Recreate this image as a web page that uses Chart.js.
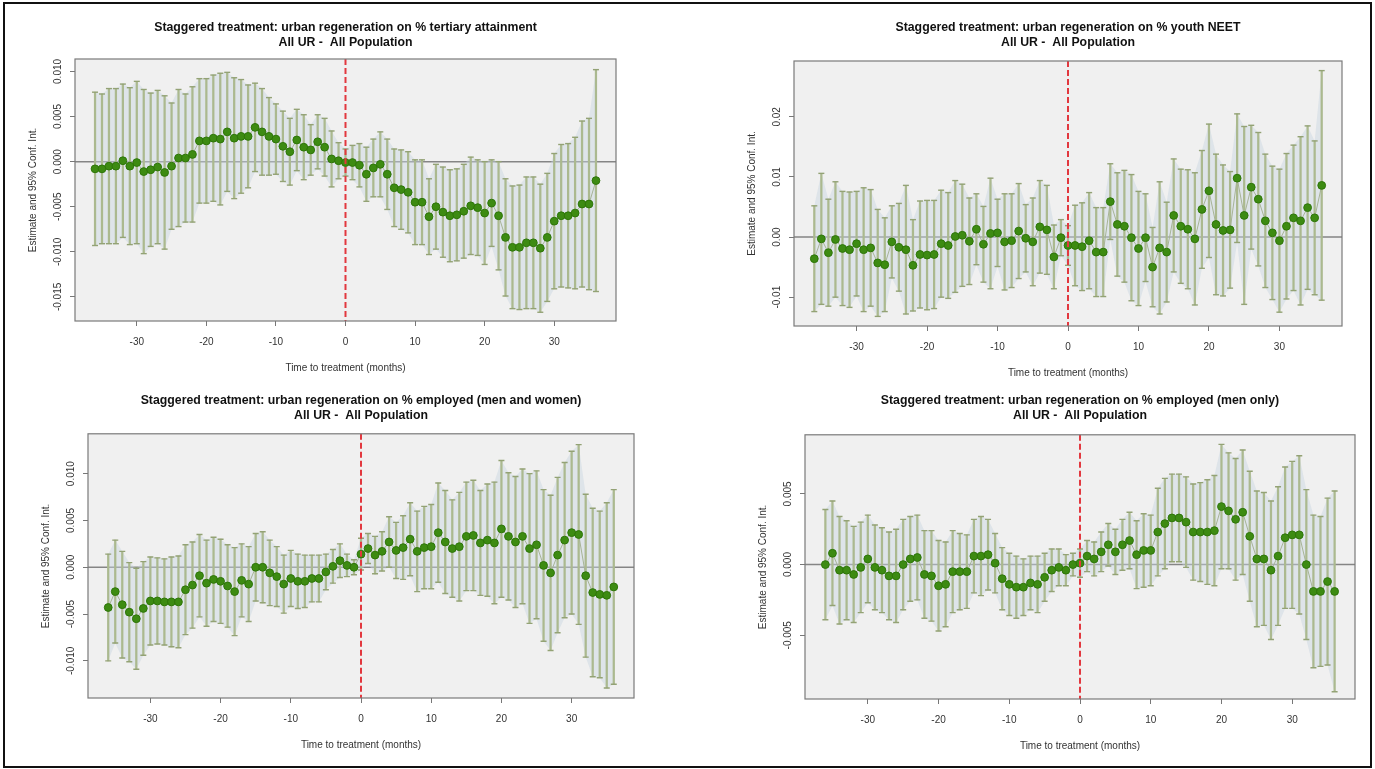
<!DOCTYPE html>
<html>
<head>
<meta charset="utf-8">
<script src="https://cdn.jsdelivr.net/npm/chart.js@4.4.0/dist/chart.umd.min.js"></script>
<style>
html, body { margin: 0; padding: 0; background: #fff; overflow: hidden; width: 1375px; height: 769px; }
#frame { position: absolute; left: 3px; top: 2px; width: 1365px; height: 762px; border: 2px solid #111; z-index: 5; pointer-events: none; }
canvas { position: absolute; }
</style>
</head>
<body>
<div id="frame"></div>
<canvas id="tertiary"></canvas>
<canvas id="neet"></canvas>
<canvas id="employed"></canvas>
<canvas id="menEmployed"></canvas>
<script>
// months relative to treatment
var months = [-36, -35, -34, -33, -32, -31, -30, -29, -28, -27, -26, -25, -24, -23, -22, -21, -20, -19, -18, -17, -16, -15, -14, -13,
  -12, -11, -10, -9, -8, -7, -6, -5, -4, -3, -2, -1, 0, 1, 2, 3, 4, 5, 6, 7, 8, 9, 10, 11, 12, 13, 14, 15, 16, 17, 18, 19, 20,
  21, 22, 23, 24, 25, 26, 27, 28, 29, 30, 31, 32, 33, 34, 35, 36];
var xTicks = [-30, -20, -10, 0, 10, 20, 30];

// % tertiary attainment: estimate and half width of 95% CI
var tertiaryEst = [-0.0008, -0.0008, -0.0005, -0.0005, 0.0001, -0.0005, -0.0001, -0.0011, -0.0009, -0.0006, -0.0012, -0.0005,
  0.0004, 0.0004, 0.0008, 0.0023, 0.0023, 0.0026, 0.0025, 0.0033, 0.0026, 0.0028, 0.0028, 0.0038, 0.0033, 0.0028, 0.0025, 0.0017,
  0.0011, 0.0024, 0.0016, 0.0013, 0.0022, 0.0016, 0.0003, 0.0001,
  -0.0001, -0.0001, -0.0004, -0.0014, -0.0007, -0.0003, -0.0014, -0.0029, -0.0031, -0.0034, -0.0045, -0.0045, -0.0061, -0.0050,
  -0.0056, -0.0060, -0.0059, -0.0055, -0.0049, -0.0051, -0.0057, -0.0046, -0.0060, -0.0084, -0.0095, -0.0095, -0.0090, -0.0090,
  -0.0096, -0.0084, -0.0066, -0.0060, -0.0060, -0.0057, -0.0047, -0.0047, -0.0021];
var tertiaryCI = [0.0085, 0.0083, 0.0086, 0.0086, 0.0085, 0.0087, 0.0090, 0.0091, 0.0085, 0.0085, 0.0085, 0.0070, 0.0076, 0.0071,
  0.0075, 0.0069, 0.0069, 0.0070, 0.0073, 0.0066, 0.0067, 0.0063, 0.0057, 0.0049, 0.0048, 0.0043, 0.0039, 0.0039, 0.0037, 0.0034,
  0.0036, 0.0028, 0.0030, 0.0032, 0.0031, 0.0020,
  0.0015, 0.0019, 0.0024, 0.0030, 0.0032, 0.0036, 0.0039, 0.0043, 0.0044, 0.0045, 0.0047, 0.0047, 0.0042, 0.0047, 0.0050, 0.0051,
  0.0051, 0.0052, 0.0054, 0.0053, 0.0057, 0.0048, 0.0060, 0.0065, 0.0068, 0.0069, 0.0073, 0.0073, 0.0071, 0.0071, 0.0075, 0.0079,
  0.0080, 0.0084, 0.0092, 0.0095, 0.0123];

// % youth NEET
var neetEst = [-0.0036, -0.0003, -0.0026, -0.0004, -0.0019, -0.0021, -0.0011, -0.0021, -0.0018, -0.0043, -0.0046, -0.0008,
  -0.0017, -0.0021, -0.0047, -0.0029, -0.0030, -0.0029, -0.0011, -0.0014, 0.0001, 0.0003, -0.0007, 0.0013, -0.0012, 0.0006,
  0.0007, -0.0008, -0.0006, 0.0010, -0.0002, -0.0008, 0.0017, 0.0012, -0.0033, -0.0001,
  -0.0014, -0.0014, -0.0016, -0.0006, -0.0025, -0.0025, 0.0059, 0.0021, 0.0018, -0.0001, -0.0019, -0.0001, -0.0050, -0.0018,
  -0.0025, 0.0036, 0.0018, 0.0013, -0.0003, 0.0046, 0.0077, 0.0021, 0.0011, 0.0012, 0.0098, 0.0036, 0.0083, 0.0063, 0.0027,
  0.0007, -0.0006, 0.0018, 0.0032, 0.0027, 0.0049, 0.0032, 0.0086];
var neetCI = [0.0088, 0.0109, 0.0089, 0.0096, 0.0095, 0.0096, 0.0087, 0.0103, 0.0097, 0.0089, 0.0078, 0.0060, 0.0073, 0.0107,
  0.0076, 0.0089, 0.0091, 0.0090, 0.0089, 0.0088, 0.0093, 0.0085, 0.0072, 0.0059, 0.0063, 0.0092, 0.0056, 0.0080, 0.0078, 0.0079,
  0.0056, 0.0073, 0.0077, 0.0074, 0.0053, 0.0030,
  0.0033, 0.0067, 0.0073, 0.0080, 0.0074, 0.0074, 0.0063, 0.0086, 0.0093, 0.0105, 0.0095, 0.0073, 0.0066, 0.0110, 0.0083, 0.0094,
  0.0095, 0.0099, 0.0110, 0.0098, 0.0111, 0.0117, 0.0109, 0.0097, 0.0107, 0.0148, 0.0103, 0.0111, 0.0111, 0.0111, 0.0119, 0.0121,
  0.0121, 0.0140, 0.0136, 0.0128, 0.0191];

// % employed (men and women)
var employedEst = [-0.0043, -0.0026, -0.0040, -0.0048, -0.0055, -0.0044, -0.0036, -0.0036, -0.0037, -0.0037, -0.0037, -0.0024,
  -0.0019, -0.0009, -0.0017, -0.0013, -0.0015, -0.0020, -0.0026, -0.0014, -0.0018, 0.0000, 0.0000, -0.0006, -0.0010, -0.0018,
  -0.0012, -0.0015, -0.0015, -0.0012, -0.0012, -0.0005, 0.0001, 0.0007, 0.0002, 0.0000,
  0.0014, 0.0020, 0.0013, 0.0017, 0.0027, 0.0018, 0.0021, 0.0030, 0.0017, 0.0021, 0.0022, 0.0037, 0.0027, 0.0020, 0.0022, 0.0033,
  0.0034, 0.0026, 0.0029, 0.0026, 0.0041, 0.0033, 0.0027, 0.0033, 0.0020, 0.0024, 0.0002, -0.0006, 0.0013, 0.0029, 0.0037, 0.0035,
  -0.0009, -0.0027, -0.0029, -0.0030, -0.0021];
var employedCI = [0.0057, 0.0055, 0.0057, 0.0053, 0.0054, 0.0050, 0.0047, 0.0046, 0.0046, 0.0048, 0.0049, 0.0048, 0.0046, 0.0044,
  0.0046, 0.0045, 0.0045, 0.0044, 0.0047, 0.0039, 0.0040, 0.0036, 0.0038, 0.0035, 0.0032, 0.0031, 0.0030, 0.0029, 0.0028, 0.0025,
  0.0025, 0.0019, 0.0018, 0.0018, 0.0012, 0.0008,
  0.0017, 0.0016, 0.0020, 0.0021, 0.0027, 0.0030, 0.0034, 0.0039, 0.0043, 0.0044, 0.0045, 0.0053, 0.0055, 0.0052, 0.0058, 0.0058,
  0.0059, 0.0056, 0.0060, 0.0065, 0.0073, 0.0068, 0.0070, 0.0072, 0.0080, 0.0079, 0.0081, 0.0083, 0.0083, 0.0083, 0.0087, 0.0096,
  0.0087, 0.0090, 0.0089, 0.0099, 0.0104];

// % employed (men only)
var menEst = [0.0000, 0.0008, -0.0004, -0.0004, -0.0007, -0.0002, 0.0004, -0.0002, -0.0004, -0.0008, -0.0008, 0.0000, 0.0004,
  0.0005, -0.0007, -0.0008, -0.0015, -0.0014, -0.0005, -0.0005, -0.0005, 0.0006, 0.0006, 0.0007, 0.0001, -0.0010, -0.0014,
  -0.0016, -0.0016, -0.0013, -0.0014, -0.0009, -0.0004, -0.0002, -0.0004, 0.0000,
  0.0001, 0.0006, 0.0004, 0.0009, 0.0014, 0.0009, 0.0014, 0.0017, 0.0007, 0.0010, 0.0010, 0.0023, 0.0029, 0.0033, 0.0033, 0.0030,
  0.0023, 0.0023, 0.0023, 0.0024, 0.0041, 0.0038, 0.0032, 0.0037, 0.0020, 0.0004, 0.0004, -0.0004, 0.0006, 0.0019, 0.0021, 0.0021,
  0.0000, -0.0019, -0.0019, -0.0012, -0.0019];
var menCI = [0.0039, 0.0037, 0.0038, 0.0035, 0.0034, 0.0032, 0.0031, 0.0030, 0.0030, 0.0031, 0.0033, 0.0032, 0.0030, 0.0030,
  0.0031, 0.0032, 0.0032, 0.0030, 0.0029, 0.0027, 0.0026, 0.0026, 0.0028, 0.0025, 0.0021, 0.0022, 0.0022, 0.0022, 0.0020, 0.0019,
  0.0020, 0.0017, 0.0015, 0.0013, 0.0011, 0.0008,
  0.0010, 0.0011, 0.0012, 0.0014, 0.0015, 0.0016, 0.0018, 0.0020, 0.0024, 0.0026, 0.0025, 0.0031, 0.0032, 0.0031, 0.0031, 0.0032,
  0.0034, 0.0035, 0.0037, 0.0039, 0.0044, 0.0041, 0.0043, 0.0044, 0.0046, 0.0048, 0.0047, 0.0049, 0.0049, 0.0050, 0.0052, 0.0056,
  0.0053, 0.0054, 0.0053, 0.0059, 0.0071];

var ticksTertiary = [-0.015, -0.010, -0.005, 0, 0.005, 0.010];
var ticksNeet = [-0.01, 0, 0.01, 0.02];
var ticksEmployed = [-0.010, -0.005, 0, 0.005, 0.010];
var ticksMen = [-0.005, 0, 0.005];

var FONT = "'Liberation Sans', Arial, Helvetica, sans-serif";

// plot box, zero line and the dashed treatment line
var panelPlugin = {
  id: 'panelPlugin',
  beforeDraw: function (chart) {
    var a = chart.chartArea, ctx = chart.ctx;
    ctx.save();
    ctx.fillStyle = '#f0f0f0';
    ctx.fillRect(a.left, a.top, a.right - a.left, a.bottom - a.top);
    ctx.restore();
  },
  beforeDatasetsDraw: function (chart) {
    var a = chart.chartArea, ctx = chart.ctx;
    var y0 = chart.scales.y.getPixelForValue(0);
    ctx.save();
    ctx.strokeStyle = '#858585';
    ctx.lineWidth = 1.5;
    ctx.beginPath();
    ctx.moveTo(a.left, y0);
    ctx.lineTo(a.right, y0);
    ctx.stroke();
    ctx.restore();
  },
  afterDatasetsDraw: function (chart) {
    var a = chart.chartArea, ctx = chart.ctx;
    var x0 = chart.scales.x.getPixelForValue(0);
    ctx.save();
    ctx.strokeStyle = '#e2383f';
    ctx.lineWidth = 2;
    ctx.setLineDash([6, 3]);
    ctx.beginPath();
    ctx.moveTo(x0, a.top);
    ctx.lineTo(x0, a.bottom);
    ctx.stroke();
    ctx.restore();
  },
  afterDraw: function (chart) {
    var a = chart.chartArea, ctx = chart.ctx;
    ctx.save();
    ctx.strokeStyle = '#7a7a7a';
    ctx.lineWidth = 1.2;
    ctx.strokeRect(a.left, a.top, a.right - a.left, a.bottom - a.top);
    ctx.restore();
  }
};

function makePanel(id, box, titleY, title, est, ci, yMin, yMax, yTicks, digits, tickPad) {
  var axisW = 60, axisH = 60, lh = 15, padTop = 4;
  var top = titleY - padTop - lh / 2;
  var canvas = document.getElementById(id);
  canvas.width = box.r - box.l + 2 * axisW;
  canvas.height = box.b + axisH - top;
  canvas.style.left = (box.l - axisW) + 'px';
  canvas.style.top = top + 'px';

  var lo = est.map(function (v, i) { return v - ci[i]; });
  var hi = est.map(function (v, i) { return v + ci[i]; });
  var pts = months.map(function (m, i) { return { x: m, y: est[i] }; });
  var bars = months.map(function (m, i) { return { x: m, y: [lo[i], hi[i]] }; });
  var caps = months.map(function (m, i) { return { x: m, y: lo[i] }; })
    .concat(months.map(function (m, i) { return { x: m, y: hi[i] }; }));

  new Chart(canvas.getContext('2d'), {
    type: 'line',
    data: {
      datasets: [{
        // estimates
        data: pts,
        borderColor: '#a7b496',
        borderWidth: 1,
        pointRadius: 3.9,
        pointBackgroundColor: '#3d8b12',
        pointBorderColor: '#2e7609',
        pointBorderWidth: 1,
        order: 0
      }, {
        // CI caps
        type: 'scatter',
        data: caps,
        pointStyle: 'line',
        pointRadius: 3,
        borderColor: '#93a275',
        borderWidth: 1.4,
        order: 1
      }, {
        // CI whiskers
        type: 'bar',
        data: bars,
        backgroundColor: '#abb98f',
        barThickness: 1.6,
        order: 2
      }, {
        data: months.map(function (m, i) { return { x: m, y: hi[i] }; }),
        borderColor: 'rgba(0,0,0,0)',
        borderWidth: 0,
        pointRadius: 0,
        fill: false,
        order: 3
      }, {
        data: months.map(function (m, i) { return { x: m, y: lo[i] }; }),
        borderColor: 'rgba(0,0,0,0)',
        borderWidth: 0,
        pointRadius: 0,
        fill: '-1',
        backgroundColor: 'rgba(200,212,224,0.45)',
        order: 4
      }]
    },
    options: {
      responsive: false,
      animation: false,
      events: [],
      plugins: {
        legend: { display: false },
        tooltip: { enabled: false },
        title: {
          display: true,
          text: title,
          color: '#111',
          font: { family: FONT, size: 12.3, weight: 'bold', lineHeight: lh / 12.3 },
          padding: { top: padTop, bottom: box.t - top - padTop - 2 * lh }
        }
      },
      scales: {
        x: {
          type: 'linear',
          min: -38.88,
          max: 38.88,
          offset: false,
          afterFit: function (s) { s.height = axisH; },
          afterBuildTicks: function (s) { s.ticks = xTicks.map(function (v) { return { value: v }; }); },
          grid: { offset: false, drawOnChartArea: false, drawTicks: true, tickLength: 5, color: '#777' },
          border: { display: false },
          ticks: { color: '#333', padding: 10, font: { family: FONT, size: 10 }, maxRotation: 0 },
          title: { display: true, text: 'Time to treatment (months)', color: '#333', font: { family: FONT, size: 10 }, padding: { top: 0, bottom: 7 } }
        },
        y: {
          type: 'linear',
          min: yMin,
          max: yMax,
          afterFit: function (s) { s.width = axisW; },
          afterBuildTicks: function (s) { s.ticks = yTicks.map(function (v) { return { value: v }; }); },
          grid: { drawOnChartArea: false, drawTicks: true, tickLength: 5, color: '#777' },
          border: { display: false },
          ticks: {
            color: '#333', padding: tickPad, minRotation: 90, maxRotation: 90, crossAlign: 'center',
            font: { family: FONT, size: 10 },
            callback: function (v) { return v.toFixed(digits); }
          },
          title: { display: true, text: 'Estimate and 95% Conf. Int.', color: '#333', font: { family: FONT, size: 10 }, padding: { top: 12, bottom: 0 } }
        },
        // empty right margin so the title centres over the plot box
        yRight: {
          position: 'right',
          afterFit: function (s) { s.width = axisW; },
          grid: { display: false },
          border: { display: false },
          ticks: { display: false }
        }
      }
    },
    plugins: [panelPlugin]
  });
}

makePanel('tertiary', { l: 75, t: 59, r: 616, b: 321 }, 27.5,
  ['Staggered treatment: urban regeneration on % tertiary attainment', 'All UR -  All Population'],
  tertiaryEst, tertiaryCI, -0.01767, 0.01138, ticksTertiary, 3, -2);
makePanel('neet', { l: 794, t: 61, r: 1342, b: 326 }, 27.5,
  ['Staggered treatment: urban regeneration on % youth NEET', 'All UR -  All Population'],
  neetEst, neetCI, -0.0148, 0.0293, ticksNeet, 2, 0.5);
makePanel('employed', { l: 88, t: 434, r: 634, b: 699 }, 400.7,
  ['Staggered treatment: urban regeneration on % employed (men and women)', 'All UR -  All Population'],
  employedEst, employedCI, -0.01397, 0.01426, ticksEmployed, 3, -2);
makePanel('menEmployed', { l: 805, t: 435, r: 1355, b: 700 }, 400.7,
  ['Staggered treatment: urban regeneration on % employed (men only)', 'All UR -  All Population'],
  menEst, menCI, -0.00951, 0.00918, ticksMen, 3, -2);
</script>
</body>
</html>
